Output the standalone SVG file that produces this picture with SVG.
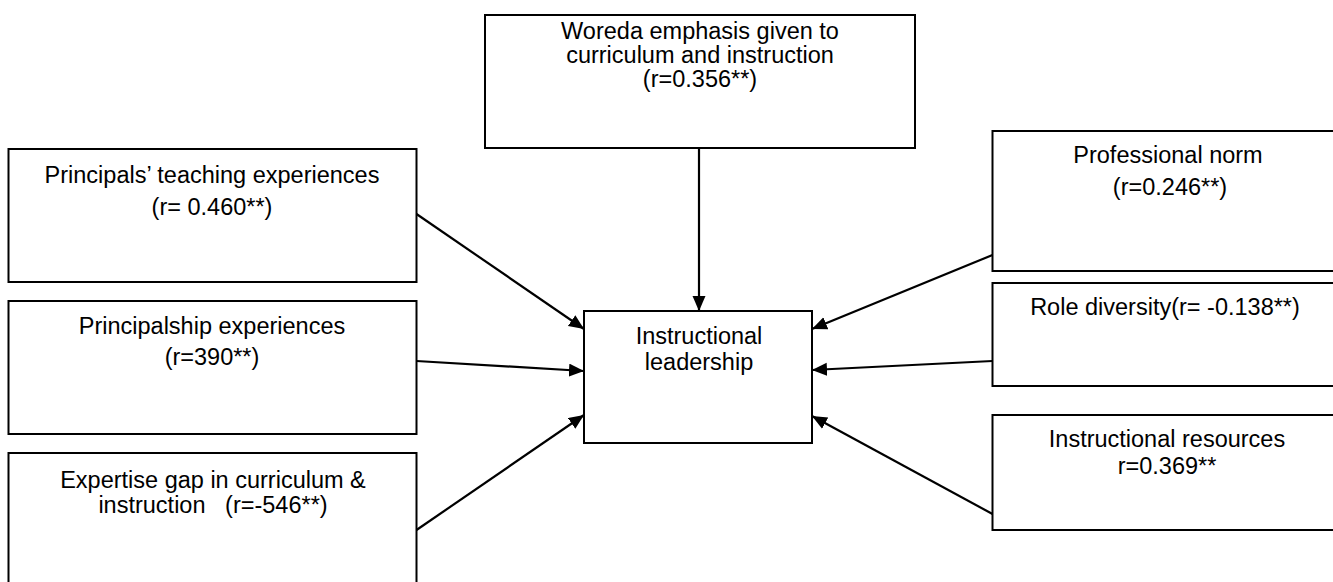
<svg xmlns="http://www.w3.org/2000/svg" width="1333" height="582" viewBox="0 0 1333 582">
<style>
.box{fill:#fff;stroke:#000;stroke-width:2}
.t{font-family:"Liberation Sans",Arial,sans-serif;font-size:23.5px;fill:#000;text-anchor:middle;white-space:pre}
.c{stroke:#000;stroke-width:2.2;fill:none;marker-end:url(#ah)}
</style>
<defs>
<marker id="ah" markerUnits="userSpaceOnUse" markerWidth="16" markerHeight="14" refX="15" refY="6.5" orient="auto">
<path d="M0,0 L15,6.5 L0,13 z" fill="#000"/>
</marker>
</defs>
<rect width="1333" height="582" fill="#fff"/>
<g id="n-woreda">
<rect class="box" x="485" y="15" width="430" height="133"/>
<text class="t" x="700" y="39">Woreda emphasis given to</text>
<text class="t" x="700" y="63">curriculum and instruction</text>
<text class="t" x="700" y="87">(r=0.356**)</text>
</g>
<g id="n-teaching">
<rect class="box" x="8.5" y="149" width="408" height="133"/>
<text class="t" x="212" y="183">Principals’ teaching experiences</text>
<text class="t" x="212" y="215">(r= 0.460**)</text>
</g>
<g id="n-principalship">
<rect class="box" x="8.5" y="301" width="408" height="133"/>
<text class="t" x="212" y="334">Principalship experiences</text>
<text class="t" x="212" y="365">(r=390**)</text>
</g>
<g id="n-expertise">
<rect class="box" x="8.5" y="453" width="408" height="140"/>
<text class="t" x="213" y="488">Expertise gap in curriculum &amp;</text>
<text class="t" x="213" y="513">instruction   (r=-546**)</text>
</g>
<g id="n-instructional">
<rect class="box" x="584" y="311" width="228" height="132"/>
<text class="t" x="699" y="344">Instructional</text>
<text class="t" x="699" y="370">leadership</text>
</g>
<g id="n-norm">
<rect class="box" x="992.5" y="131" width="360" height="140"/>
<text class="t" x="1168" y="163">Professional norm</text>
<text class="t" x="1170" y="195">(r=0.246**)</text>
</g>
<g id="n-role">
<rect class="box" x="992.5" y="283" width="360" height="103"/>
<text class="t" x="1165" y="315">Role diversity(r= -0.138**)</text>
</g>
<g id="n-resources">
<rect class="box" x="992.5" y="415" width="360" height="115"/>
<text class="t" x="1167" y="447">Instructional resources</text>
<text class="t" x="1167" y="474">r=0.369**</text>
</g>
<g id="connectors">
<line class="c" x1="416.5" y1="214" x2="584" y2="329"/>
<line class="c" x1="416.5" y1="361" x2="584" y2="371"/>
<line class="c" x1="416.5" y1="530" x2="584" y2="415"/>
<line class="c" x1="699" y1="148" x2="699" y2="311"/>
<line class="c" x1="992.5" y1="255" x2="812" y2="329"/>
<line class="c" x1="992.5" y1="361" x2="812" y2="370"/>
<line class="c" x1="992.5" y1="514" x2="812" y2="416"/>
</g>
</svg>
